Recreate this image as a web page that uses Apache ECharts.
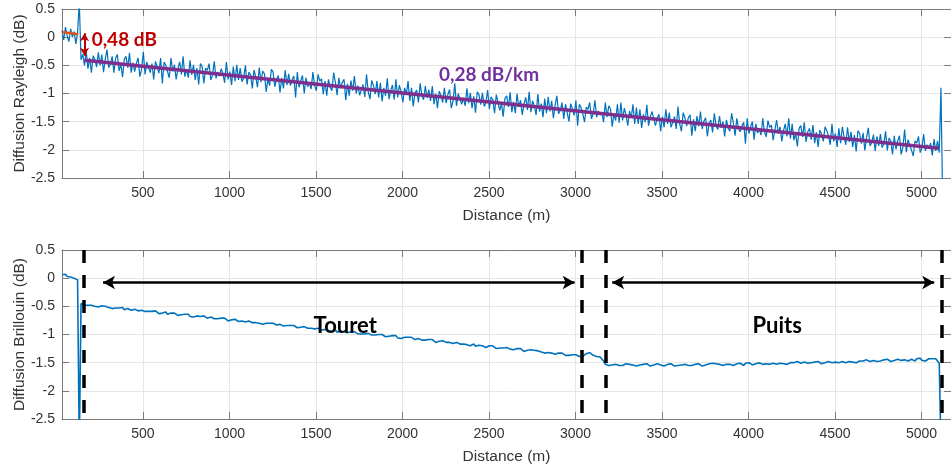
<!DOCTYPE html>
<html><head><meta charset="utf-8">
<script src="https://cdn.jsdelivr.net/npm/echarts@6/dist/echarts.min.js"></script>
<style>html,body{margin:0;padding:0;background:#fff}#c{width:951px;height:466px}</style>
</head><body><div id="c"></div>
<script>
// sampling of both traces: distance (m) = distStart + i * distStep
const distStart = 32;
const distStep = 10;
const xMin = 32, xMax = 5170;
const xTicks = [500, 1000, 1500, 2000, 2500, 3000, 3500, 4000, 4500, 5000];
const yMin = -2.5, yMax = 0.5, yInterval = 0.5;

// Rayleigh scattering trace (dB)
const rayleighValues = [
0.12,-0.05,0.18,0.02,-0.08,0.15,0.00,0.10,-0.12,0.08,
0.62,-0.40,
-0.30,-0.50,-0.24,-0.56,-0.37,-0.63,-0.33,-0.40,-0.53,-0.27,
-0.50,-0.31,-0.62,-0.39,-0.22,-0.54,-0.48,-0.34,-0.63,-0.37,
-0.31,-0.60,-0.48,-0.71,-0.39,-0.34,-0.54,-0.28,-0.63,-0.45,
-0.61,-0.46,-0.37,-0.70,-0.57,-0.26,-0.66,-0.44,-0.54,-0.63,
-0.47,-0.75,-0.43,-0.52,-0.64,-0.37,-0.82,-0.44,-0.50,-0.61,
-0.72,-0.37,-0.61,-0.49,-0.75,-0.56,-0.44,-0.66,-0.34,-0.70,
-0.58,-0.72,-0.41,-0.67,-0.49,-0.76,-0.55,-0.84,-0.47,-0.52,
-0.82,-0.55,-0.59,-0.47,-0.76,-0.67,-0.43,-0.73,-0.62,-0.69,
-0.56,-0.65,-0.81,-0.44,-0.75,-0.61,-0.85,-0.52,-0.78,-0.49,
-0.76,-0.55,-0.79,-0.72,-0.50,-0.84,-0.62,-0.67,-0.91,-0.58,
-0.71,-0.89,-0.54,-0.80,-0.60,-0.65,-0.97,-0.74,-0.86,-0.57,
-0.62,-0.88,-0.75,-0.68,-0.98,-0.72,-0.91,-0.59,-0.85,-0.65,
-0.86,-0.75,-0.69,-1.07,-0.62,-0.89,-0.77,-0.68,-1.00,-0.72,
-0.88,-0.81,-0.92,-0.62,-0.86,-0.95,-0.66,-0.78,-0.74,-1.01,
-0.78,-1.04,-0.75,-0.89,-0.95,-0.63,-0.80,-1.03,-0.72,-0.91,
-0.80,-0.75,-1.12,-0.83,-1.04,-0.77,-0.95,-0.69,-1.00,-0.86,
-1.03,-0.94,-0.84,-1.06,-0.66,-0.97,-1.10,-0.77,-0.86,-1.01,
-0.78,-1.07,-0.81,-1.14,-0.90,-1.04,-0.73,-1.10,-0.94,-0.85,
-1.11,-0.75,-1.07,-0.85,-0.97,-1.16,-0.90,-1.02,-0.78,-1.13,
-0.90,-1.23,-0.99,-0.94,-1.16,-0.82,-1.04,-1.11,-0.87,-1.08,
-0.93,-1.13,-0.87,-1.19,-1.00,-1.26,-0.96,-1.03,-1.16,-0.90,
-1.17,-1.02,-0.93,-1.26,-1.13,-0.82,-1.22,-1.00,-1.10,-1.19,
-1.08,-1.22,-0.91,-1.17,-0.99,-1.26,-1.05,-1.34,-0.97,-1.02,
-1.20,-0.99,-1.23,-1.16,-0.94,-1.28,-1.06,-1.11,-1.35,-1.02,
-1.01,-1.30,-1.18,-1.41,-1.09,-1.04,-1.24,-0.98,-1.33,-1.15,
-1.35,-1.00,-1.24,-1.12,-1.38,-1.19,-1.07,-1.29,-0.97,-1.33,
-1.13,-1.22,-1.38,-1.01,-1.32,-1.18,-1.42,-1.09,-1.35,-1.06,
-1.32,-1.13,-1.44,-1.21,-1.04,-1.36,-1.30,-1.16,-1.45,-1.19,
-1.22,-1.50,-1.18,-1.27,-1.39,-1.12,-1.57,-1.19,-1.25,-1.36,
-1.51,-1.24,-1.28,-1.16,-1.45,-1.36,-1.12,-1.42,-1.31,-1.38,
-1.33,-1.51,-1.16,-1.42,-1.22,-1.27,-1.59,-1.36,-1.48,-1.19,
-1.52,-1.16,-1.48,-1.26,-1.38,-1.57,-1.31,-1.43,-1.19,-1.54,
-1.25,-1.54,-1.28,-1.61,-1.37,-1.51,-1.20,-1.57,-1.41,-1.32,
-1.31,-1.57,-1.44,-1.37,-1.67,-1.41,-1.60,-1.28,-1.54,-1.34,
-1.60,-1.51,-1.41,-1.63,-1.23,-1.54,-1.67,-1.34,-1.43,-1.58,
-1.43,-1.38,-1.75,-1.46,-1.67,-1.40,-1.58,-1.32,-1.63,-1.49,
-1.43,-1.76,-1.52,-1.47,-1.69,-1.35,-1.57,-1.64,-1.40,-1.61,
-1.50,-1.76,-1.47,-1.61,-1.67,-1.35,-1.52,-1.75,-1.44,-1.63,
-1.68,-1.57,-1.51,-1.89,-1.44,-1.71,-1.59,-1.50,-1.82,-1.54,
-1.70,-1.63,-1.74,-1.44,-1.68,-1.77,-1.48,-1.60,-1.56,-1.83,
-1.82,-1.47,-1.71,-1.59,-1.85,-1.66,-1.54,-1.76,-1.44,-1.80,
-1.54,-1.83,-1.71,-1.94,-1.62,-1.57,-1.77,-1.51,-1.86,-1.68,
-1.62,-1.82,-1.56,-1.88,-1.69,-1.95,-1.65,-1.72,-1.85,-1.59,
-1.66,-1.75,-1.91,-1.54,-1.85,-1.71,-1.95,-1.62,-1.88,-1.59,
-1.77,-1.91,-1.60,-1.86,-1.68,-1.95,-1.74,-2.03,-1.66,-1.71,
-1.89,-1.70,-2.01,-1.78,-1.61,-1.93,-1.87,-1.73,-2.02,-1.76,
-1.93,-1.72,-1.96,-1.89,-1.67,-2.01,-1.79,-1.84,-2.08,-1.75,
-1.99,-1.84,-1.75,-2.08,-1.95,-1.64,-2.04,-1.82,-1.92,-2.01,
-2.11,-1.84,-1.88,-1.76,-2.05,-1.96,-1.72,-2.02,-1.91,-1.98,
-1.88,-2.10,-1.81,-2.02,-1.84,-2.05,
-0.90,-3.00
];

// Brillouin scattering trace (dB)
const brillouinValues = [
0.06,0.04,0.07,0.03,0.05,0.02,0.03,0.00,0.01,-0.03,
-3.00,-0.45,
-0.46,-0.48,-0.46,-0.48,-0.50,-0.48,-0.49,-0.50,-0.48,-0.51,
-0.50,-0.49,-0.52,-0.50,-0.53,-0.52,-0.51,-0.54,-0.52,-0.53,
-0.54,-0.53,-0.54,-0.52,-0.56,-0.57,-0.54,-0.56,-0.57,-0.54,
-0.55,-0.57,-0.58,-0.59,-0.57,-0.57,-0.59,-0.57,-0.59,-0.61,
-0.59,-0.61,-0.58,-0.61,-0.63,-0.60,-0.62,-0.63,-0.60,-0.64,
-0.64,-0.62,-0.63,-0.62,-0.65,-0.66,-0.64,-0.65,-0.66,-0.64,
-0.66,-0.64,-0.68,-0.66,-0.69,-0.68,-0.67,-0.70,-0.68,-0.69,
-0.67,-0.70,-0.71,-0.72,-0.69,-0.70,-0.72,-0.69,-0.72,-0.74,
-0.71,-0.74,-0.71,-0.73,-0.76,-0.73,-0.74,-0.76,-0.73,-0.76,
-0.77,-0.75,-0.76,-0.74,-0.78,-0.79,-0.76,-0.78,-0.79,-0.76,
-0.79,-0.77,-0.80,-0.79,-0.82,-0.80,-0.80,-0.83,-0.80,-0.81,
-0.80,-0.82,-0.83,-0.85,-0.82,-0.82,-0.85,-0.82,-0.84,-0.87,
-0.84,-0.86,-0.84,-0.86,-0.88,-0.86,-0.87,-0.88,-0.86,-0.89,
-0.89,-0.87,-0.89,-0.87,-0.90,-0.92,-0.89,-0.90,-0.92,-0.89,
-0.91,-0.90,-0.93,-0.91,-0.95,-0.93,-0.92,-0.96,-0.93,-0.94,
-0.92,-0.95,-0.96,-0.97,-0.95,-0.95,-0.97,-0.95,-0.97,-0.99,
-0.97,-0.99,-0.96,-0.99,-1.01,-0.98,-1.00,-1.01,-0.98,-1.01,
-1.02,-1.00,-1.01,-1.00,-1.03,-1.04,-1.02,-1.03,-1.04,-1.02,
-1.04,-1.02,-1.06,-1.04,-1.07,-1.06,-1.05,-1.08,-1.05,-1.07,
-1.05,-1.07,-1.09,-1.10,-1.07,-1.08,-1.10,-1.07,-1.10,-1.12,
-1.09,-1.12,-1.09,-1.11,-1.14,-1.11,-1.12,-1.13,-1.11,-1.14,
-1.14,-1.13,-1.14,-1.12,-1.16,-1.17,-1.14,-1.16,-1.17,-1.14,
-1.17,-1.15,-1.18,-1.17,-1.20,-1.18,-1.17,-1.21,-1.18,-1.19,
-1.18,-1.20,-1.21,-1.23,-1.20,-1.20,-1.23,-1.20,-1.22,-1.25,
-1.22,-1.24,-1.22,-1.24,-1.26,-1.23,-1.25,-1.26,-1.23,-1.27,
-1.27,-1.25,-1.27,-1.25,-1.28,-1.30,-1.27,-1.28,-1.30,-1.27,
-1.29,-1.28,-1.31,-1.29,-1.32,-1.31,-1.30,-1.33,-1.31,-1.32,
-1.30,-1.33,-1.34,-1.35,-1.33,-1.33,-1.35,-1.33,-1.35,-1.37,
-1.35,-1.37,-1.34,-1.36,-1.39,-1.36,-1.37,-1.39,-1.36,-1.39,
-1.38,-1.34,-1.33,-1.32,-1.31,-1.37,-1.40,-1.39,-1.41,-1.40,-1.42,-1.47,-1.53,
-1.53,-1.55,-1.52,-1.54,-1.56,-1.53,-1.54,-1.55,-1.52,-1.55,
-1.54,-1.52,-1.55,-1.53,-1.56,-1.54,-1.53,-1.56,-1.53,-1.54,
-1.55,-1.53,-1.54,-1.52,-1.55,-1.56,-1.53,-1.54,-1.55,-1.52,
-1.52,-1.54,-1.55,-1.56,-1.53,-1.53,-1.55,-1.52,-1.54,-1.56,
-1.53,-1.55,-1.52,-1.54,-1.56,-1.53,-1.54,-1.55,-1.52,-1.55,
-1.55,-1.53,-1.54,-1.52,-1.55,-1.56,-1.53,-1.54,-1.55,-1.52,
-1.53,-1.51,-1.54,-1.52,-1.55,-1.53,-1.52,-1.55,-1.52,-1.53,
-1.51,-1.53,-1.54,-1.55,-1.52,-1.52,-1.54,-1.51,-1.53,-1.55,
-1.51,-1.53,-1.50,-1.52,-1.54,-1.51,-1.52,-1.53,-1.50,-1.53,
-1.53,-1.51,-1.52,-1.50,-1.53,-1.54,-1.51,-1.52,-1.53,-1.50,
-1.51,-1.49,-1.52,-1.50,-1.53,-1.51,-1.50,-1.53,-1.50,-1.51,
-1.48,-1.50,-1.51,-1.52,-1.49,-1.49,-1.51,-1.48,-1.50,-1.52,
-1.49,-1.51,-1.48,-1.50,-1.52,-1.49,-1.50,-1.51,-1.48,-1.51,
-1.50,-1.48,-1.49,-1.47,-1.50,-1.51,-1.48,-1.49,-1.50,-1.47,
-1.48,-1.46,-1.49,-1.47,-1.50,-1.48,-1.47,-1.50,-1.47,-1.48,
-1.45,-1.47,-1.48,-1.49,-1.46,-1.46,-1.48,-1.45,-1.47,-1.49,
-1.45,-1.47,-1.44,-1.46,-1.48,-1.45,-1.46,-1.47,-1.44,-1.47,
-1.46,-1.44,-1.45,-1.43,-1.47,-1.48,-1.44,-1.45,-1.47,-1.43,
-1.45,-1.42,-1.46,-1.44,-1.47,-1.45,-1.43,-1.46,-1.43,-1.44,
-1.43,-1.46,-1.51,-3.00
];

// linear fits on the Rayleigh trace: [distance, dB]
const fitBefore = [[32, 0.09], [126, 0.05]];
const fitAfter = [[163, -0.41], [5097, -1.97]];

// annotations (data coordinates)
const stepArrow = [[162, 0.07], [162, -0.33]];
const stepLabel = {text: '0,48 dB', at: [392, -0.045]};
const slopeLabel = {text: '0,28 dB/km', at: [2500, -0.666]};
const sectionBounds = [157, 3038, 3177, 5116];
const touretArrow = [[269, -0.077], [2995, -0.077]];
const puitsArrow = [[3212, -0.077], [5073, -0.077]];
const touretLabel = {text: 'Touret', at: [1669, -0.85]};
const puitsLabel = {text: 'Puits', at: [4165, -0.85]};

const toXY = vals => vals.map((v, i) => [distStart + i * distStep, v]);

const BLUE = '#0072BD', ORANGE = '#D95319', PURPLE = '#7E2F8E';
const AXIS = '#7a7a7a', GRID = '#e6e6e6', TXT = '#333';
const FONT = 'Liberation Sans';
const ANN_FONT = 'Lato';

const gridTops = [9, 250];
const grids = gridTops.map(t => ({left: 62, top: t, width: 889, height: 169,
  containLabel: false, outerBoundsMode: 'none'}));

const xAxes = [], yAxes = [];
[0, 1].forEach(g => {
  xAxes.push({
    type: 'value', gridIndex: g, min: xMin, max: xMax, position: 'bottom',
    name: 'Distance (m)', nameLocation: 'middle', nameGap: 30, nameMoveOverlap: false,
    nameTextStyle: {fontFamily: FONT, fontSize: 15.5, color: TXT},
    axisLine: {show: true, onZero: false, lineStyle: {color: AXIS, width: 1}},
    axisTick: {show: true, inside: true, length: 7, customValues: xTicks, lineStyle: {color: AXIS}},
    axisLabel: {customValues: xTicks, margin: 8, fontFamily: FONT, fontSize: 14, color: TXT,
      formatter: v => String(v)},
    splitLine: {show: true, lineStyle: {color: GRID, width: 1}}
  });
  xAxes.push({
    type: 'value', gridIndex: g, min: xMin, max: xMax, position: 'top',
    axisLine: {show: true, onZero: false, lineStyle: {color: AXIS, width: 1}},
    axisTick: {show: true, inside: true, length: 7, customValues: xTicks, lineStyle: {color: AXIS}},
    axisLabel: {show: false}, splitLine: {show: false}
  });
  yAxes.push({
    type: 'value', gridIndex: g, min: yMin, max: yMax, interval: yInterval, position: 'left',
    name: g === 0 ? 'Diffusion Rayleigh (dB)' : 'Diffusion Brillouin (dB)',
    nameLocation: 'middle', nameGap: 34, nameMoveOverlap: false,
    nameTextStyle: {fontFamily: FONT, fontSize: 15.5, color: TXT},
    axisLine: {show: true, onZero: false, lineStyle: {color: AXIS, width: 1}},
    axisTick: {show: true, inside: true, length: 7, lineStyle: {color: AXIS}},
    axisLabel: {margin: 7, fontFamily: FONT, fontSize: 14, color: TXT},
    splitLine: {show: true, lineStyle: {color: GRID, width: 1}}
  });
  yAxes.push({
    type: 'value', gridIndex: g, min: yMin, max: yMax, interval: yInterval, position: 'right',
    axisLine: {show: true, onZero: false, lineStyle: {color: AXIS, width: 1}},
    axisTick: {show: true, inside: true, length: 7, lineStyle: {color: AXIS}},
    axisLabel: {show: false}, splitLine: {show: false}
  });
});

function textPoint(lbl, color, size) {
  return {
    symbol: 'circle', symbolSize: 0, silent: true, animation: false,
    data: [{coord: lbl.at, value: lbl.text}],
    label: {show: true, position: 'inside', formatter: lbl.text, color: color,
      fontFamily: ANN_FONT, fontWeight: 'bold', fontSize: size}
  };
}
function arrowLine(seg, color, width, head) {
  return [{coord: seg[0], symbol: 'arrow', symbolSize: head, lineStyle: {color: color, width: width, type: 'solid'}},
          {coord: seg[1], symbol: 'arrow', symbolSize: head}];
}

const series = [
  {type: 'line', name: 'Rayleigh', xAxisIndex: 0, yAxisIndex: 0, data: toXY(rayleighValues),
   showSymbol: false, symbol: 'none', clip: true,
   lineStyle: {color: BLUE, width: 1.2}, z: 2},
  {type: 'line', name: 'fitBefore', xAxisIndex: 0, yAxisIndex: 0, data: fitBefore,
   symbol: 'none', lineStyle: {color: ORANGE, width: 2.5}, z: 3},
  {type: 'line', name: 'fitAfter', xAxisIndex: 0, yAxisIndex: 0, data: fitAfter,
   symbol: 'none', lineStyle: {color: PURPLE, width: 3.5}, z: 3,
   markLine: {silent: true, animation: false, label: {show: false},
     symbol: ['arrow', 'arrow'], symbolSize: [7, 8],
     lineStyle: {color: '#C00000', width: 2, type: 'solid'},
     data: [arrowLine(stepArrow, '#C00000', 2, [7, 8])]},
   markPoint: textPoint(slopeLabel, '#7030A0', 19)},
  {type: 'line', name: 'stepText', xAxisIndex: 0, yAxisIndex: 0, data: [],
   markPoint: textPoint(stepLabel, '#C00000', 19)},
  {type: 'line', name: 'Brillouin', xAxisIndex: 2, yAxisIndex: 2, data: toXY(brillouinValues),
   showSymbol: false, symbol: 'none', clip: true,
   lineStyle: {color: BLUE, width: 1.6}, z: 2},
  {type: 'line', name: 'bounds', xAxisIndex: 2, yAxisIndex: 2, data: [], z: 4,
   markLine: {silent: true, animation: false, label: {show: false}, symbol: ['none', 'none'],
     lineStyle: {color: '#000', width: 3.5, type: [13, 12]},
     data: sectionBounds.map(x => [{coord: [x, yMax]}, {coord: [x, yMin]}])}},
  {type: 'line', name: 'sections', xAxisIndex: 2, yAxisIndex: 2, data: [], z: 4,
   markLine: {silent: true, animation: false, label: {show: false},
     symbol: ['arrow', 'arrow'], symbolSize: [10, 12],
     lineStyle: {color: '#000', width: 2.5, type: 'solid'},
     data: [arrowLine(touretArrow, '#000', 2.5, [10, 12]), arrowLine(puitsArrow, '#000', 2.5, [10, 12])]}},
  {type: 'line', name: 'touretText', xAxisIndex: 2, yAxisIndex: 2, data: [],
   markPoint: textPoint(touretLabel, '#000', 22)},
  {type: 'line', name: 'puitsText', xAxisIndex: 2, yAxisIndex: 2, data: [],
   markPoint: textPoint(puitsLabel, '#000', 22)}
];

const chart = echarts.init(document.getElementById('c'), null, {renderer: 'canvas'});
chart.setOption({
  animation: false,
  backgroundColor: '#fff',
  grid: grids,
  xAxis: xAxes,
  yAxis: yAxes,
  series: series
});
</script></body></html>
